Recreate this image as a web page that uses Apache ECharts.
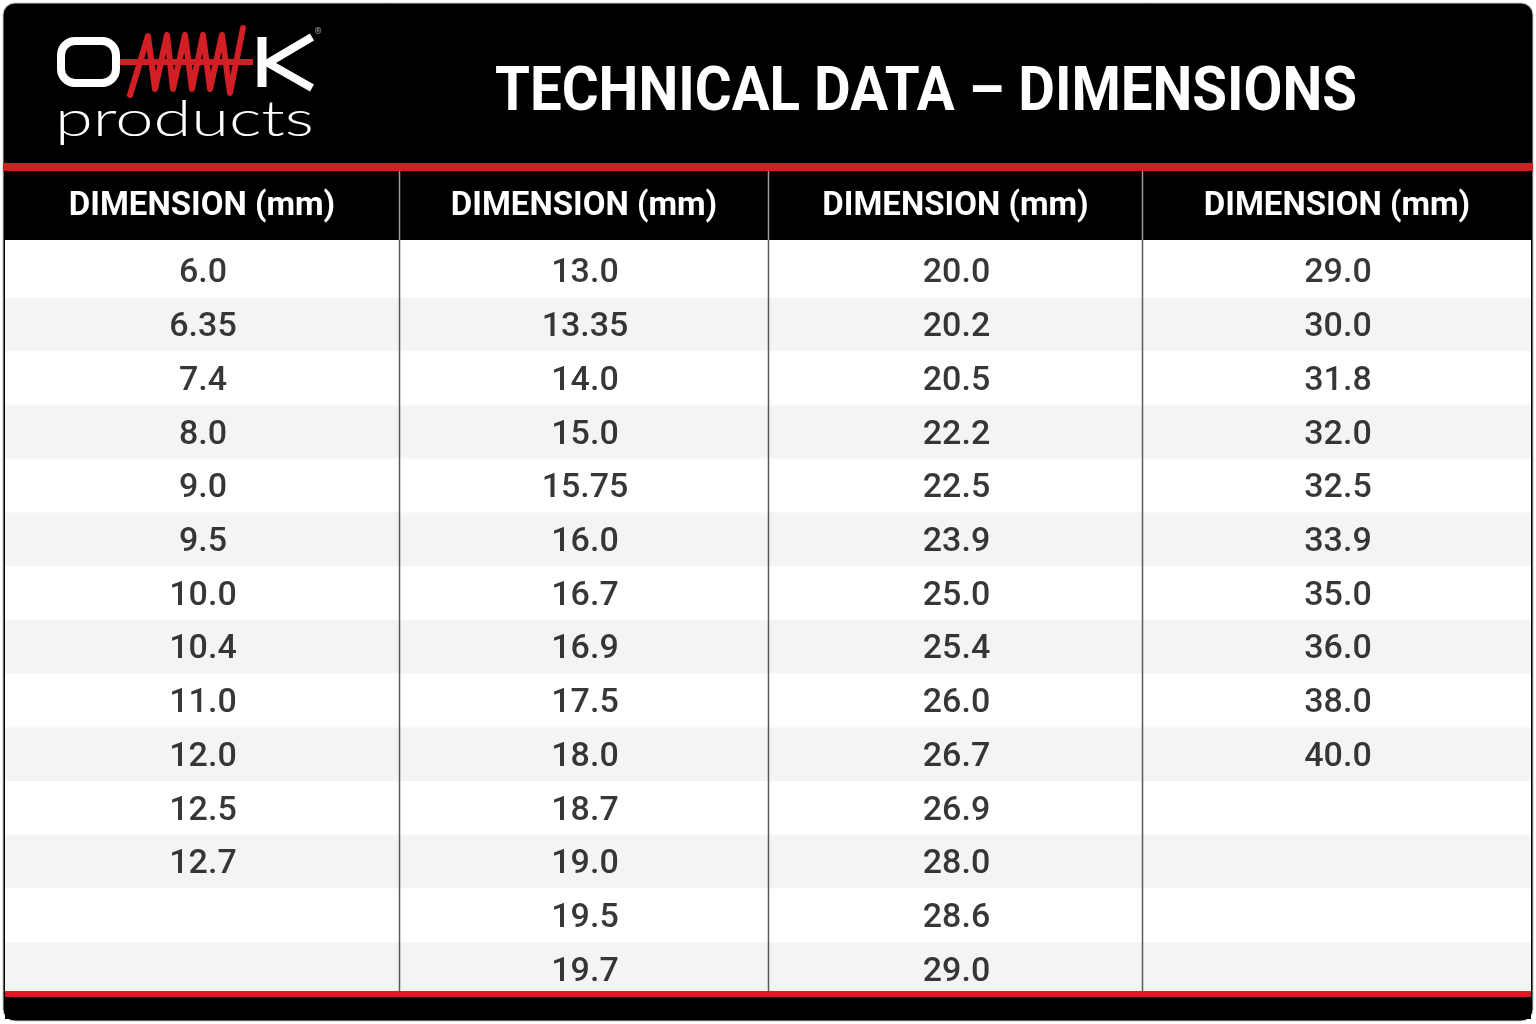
<!DOCTYPE html>
<html>
<head>
<meta charset="utf-8">
<style>
html,body{margin:0;padding:0;background:#ffffff;}
#chart{width:1536px;height:1024px;}
</style>
<script src="https://cdn.jsdelivr.net/npm/echarts@6/dist/echarts.min.js"></script>
</head>
<body>
<div id="chart"></div>
<script>
// ---- data ----
var titleText = 'TECHNICAL DATA \u2013 DIMENSIONS';
var headerLabel = 'DIMENSION (mm)';
var col1 = [6.0, 6.35, 7.4, 8.0, 9.0, 9.5, 10.0, 10.4, 11.0, 12.0, 12.5, 12.7];
var col2 = [13.0, 13.35, 14.0, 15.0, 15.75, 16.0, 16.7, 16.9, 17.5, 18.0, 18.7, 19.0, 19.5, 19.7];
var col3 = [20.0, 20.2, 20.5, 22.2, 22.5, 23.9, 25.0, 25.4, 26.0, 26.7, 26.9, 28.0, 28.6, 29.0];
var col4 = [29.0, 30.0, 31.8, 32.0, 32.5, 33.9, 35.0, 36.0, 38.0, 40.0];
var rowCount = 14;

// ---- layout ----
var columns = [col1, col2, col3, col4];
var colLeft = [5, 400, 769, 1143];
var colRight = [399, 768, 1142, 1531];
var bodyTop = 244, bodyBottom = 996;

function fmt(v) { return Number.isInteger(v) ? v.toFixed(1) : String(v); }
var rowIdx = [];
for (var r = 0; r < rowCount; r++) rowIdx.push(String(r));

var grids = [], xAxes = [], yAxes = [], series = [];
columns.forEach(function (col, i) {
  grids.push({ left: colLeft[i], top: bodyTop, width: colRight[i] - colLeft[i], height: bodyBottom - bodyTop });
  xAxes.push({
    gridIndex: i, type: 'category', position: 'top', data: [headerLabel],
    axisLine: { show: false }, axisTick: { show: false }, splitLine: { show: false },
    axisLabel: { color: '#ffffff', fontFamily: 'Roboto', fontWeight: 700, fontSize: 33, margin: 37, verticalAlign: 'middle' }
  });
  yAxes.push({
    gridIndex: i, type: 'category', inverse: true, data: rowIdx,
    axisLine: { show: false }, axisTick: { show: false }, axisLabel: { show: false },
    splitLine: { show: false },
    splitArea: { show: true, areaStyle: { color: ['#ffffff', '#f4f4f4'] } }
  });
  series.push({
    type: 'scatter', xAxisIndex: i, yAxisIndex: i, symbolSize: 0,
    itemStyle: { color: 'rgba(0,0,0,0)' },
    data: col.map(function (v, k) { return { value: [0, k, v] }; }),
    encode: { x: 0, y: 1 },
    label: {
      show: true, position: 'inside', offset: [1, 3], color: '#050505', fontFamily: 'Roboto', fontWeight: 500, fontSize: 34,
      textBorderWidth: 0,
      formatter: function (p) { return fmt(p.value[2]); }
    },
    silent: true
  });
});

var red = '#d21f26';
var graphics = [
  { type: 'rect', z: -100, shape: { x: 3, y: 3, width: 1530, height: 1018, r: 12 }, style: { fill: '#000000', stroke: '#c8c8c8', lineWidth: 1 } },
  { type: 'rect', z: -99, shape: { x: 5, y: 240, width: 1526, height: 752 }, style: { fill: '#ffffff' } },
  { type: 'rect', z: 50, shape: { x: 3, y: 163, width: 1530, height: 8 }, style: { fill: red } },
  { type: 'rect', z: 50, shape: { x: 5, y: 991, width: 1526, height: 6 }, style: { fill: red } },
  { type: 'rect', z: 50, shape: { x: 5, y: 997, width: 1526, height: 22 }, style: { fill: '#000000' } },
  // title
  { type: 'text', z: 50, x: 926, y: 94, scaleX: 0.91,
    style: { text: titleText, fill: '#ffffff', font: '700 62px Roboto', textAlign: 'center', textVerticalAlign: 'middle' } },
  // logo
  { type: 'rect', z: 50, shape: { x: 61, y: 41, width: 55, height: 42, r: 14 }, style: { fill: 'none', stroke: '#ffffff', lineWidth: 8 } },
  { type: 'polyline', z: 50, shape: { points: [[262, 37], [262, 87]] }, style: { stroke: '#ffffff', lineWidth: 9, fill: 'none' } },
  { type: 'polyline', z: 50, shape: { points: [[312, 37], [268, 63], [312, 88]] }, style: { stroke: '#ffffff', lineWidth: 8, fill: 'none', lineJoin: 'miter' } },
  { type: 'polyline', z: 51, shape: { points: [[120, 62], [253, 62]] }, style: { stroke: red, lineWidth: 6, fill: 'none' } },
  { type: 'polyline', z: 51, shape: { points: [[130, 95], [148, 36], [155, 89], [167, 35], [173, 89], [185, 35], [192, 89], [203, 35], [210, 89], [222, 35], [230, 93], [243, 28]] },
    style: { stroke: red, lineWidth: 6, fill: 'none', lineJoin: 'round', lineCap: 'round' } },
  { type: 'text', z: 50, x: 318, y: 32, style: { text: '\u00ae', fill: '#aaaaaa', font: '9px Roboto', textAlign: 'center', textVerticalAlign: 'middle' } },
  { type: 'text', z: 50, x: 55, y: 120, scaleX: 1.40,
    style: { text: 'products', fill: '#ffffff', font: '300 49px Lato', textAlign: 'left', textVerticalAlign: 'middle' } }
];
// column dividers
for (var d = 1; d < colLeft.length; d++) {
  var xd = (colRight[d - 1] + colLeft[d]) / 2;
  graphics.push({ type: 'line', z: 40, shape: { x1: xd, y1: 171, x2: xd, y2: 240 }, style: { stroke: '#9a9a9a', lineWidth: 1.5 } });
  graphics.push({ type: 'line', z: 40, shape: { x1: xd, y1: 240, x2: xd, y2: 991 }, style: { stroke: '#5a5a5a', lineWidth: 1.5 } });
}

var chart = echarts.init(document.getElementById('chart'));
chart.setOption({
  backgroundColor: '#ffffff',
  animation: false,
  grid: grids, xAxis: xAxes, yAxis: yAxes, series: series,
  graphic: graphics
});
</script>
</body>
</html>
